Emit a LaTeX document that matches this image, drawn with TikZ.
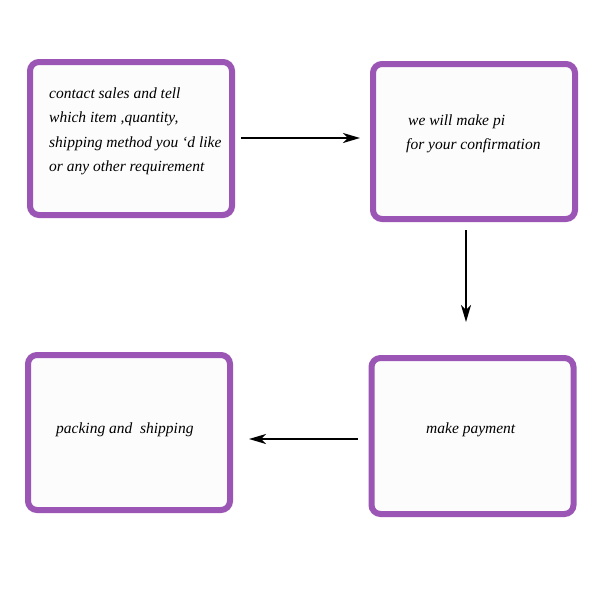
\documentclass[tikz,border=0pt]{standalone}
\usepackage{fontspec}
\setmainfont{Liberation Serif}
\usetikzlibrary{arrows.meta}
\definecolor{boxpurple}{HTML}{9B55B5}
\definecolor{boxfill}{HTML}{FCFCFC}
\begin{document}
\begin{tikzpicture}[x=1pt,y=-1pt,
  card/.style={draw=boxpurple, fill=boxfill, line width=6pt, rounded corners=9pt,
    minimum width=202pt, minimum height=153pt, inner sep=0pt, outer sep=3pt},
  txt/.style={font=\fontsize{15.5}{24.5}\selectfont\itshape, align=left, anchor=west, inner sep=0pt, text=black},
  arr/.style={line width=2pt, -{Stealth[length=17pt,width=10pt,inset=5pt]}}]
\useasboundingbox (0,0) rectangle (600,600);
\fill[white] (0,0) rectangle (600,600);
\node[card] (b1) at (131,138.5) {};
\node[card, minimum height=155pt] (b2) at (474,141.5) {};
\node[card, minimum height=156pt] (b4) at (472.5,436) {};
\node[card, minimum height=155pt] (b3) at (129,432.5) {};
\node[txt] (t1) at (49,131.5) {contact sales and tell\\which item ,quantity,\\shipping method you ‘d like\\or any other requirement};
\node[txt] (t2) at (406,134) {\hspace{2pt}we will make pi\\for your confirmation};
\node[txt] (t4) at (426,429.5) {make payment};
\node[txt] (t3) at (56,429.5) {packing and\ \ shipping};
\draw[arr, shorten <=6pt, shorten >=10pt] ([yshift=0.5pt]b1.east) -- ([yshift=0.5pt]b1.east -| b2.west);
\draw[arr, shorten <=8pt, shorten >=33pt] ([xshift=-8pt]b2.south) -- ([xshift=-8pt]b2.south |- b4.north);
\draw[arr, shorten <=11pt, shorten >=16pt] ([yshift=-3pt]b4.west) -- ([yshift=-3pt]b4.west -| b3.east);
\end{tikzpicture}
\end{document}
